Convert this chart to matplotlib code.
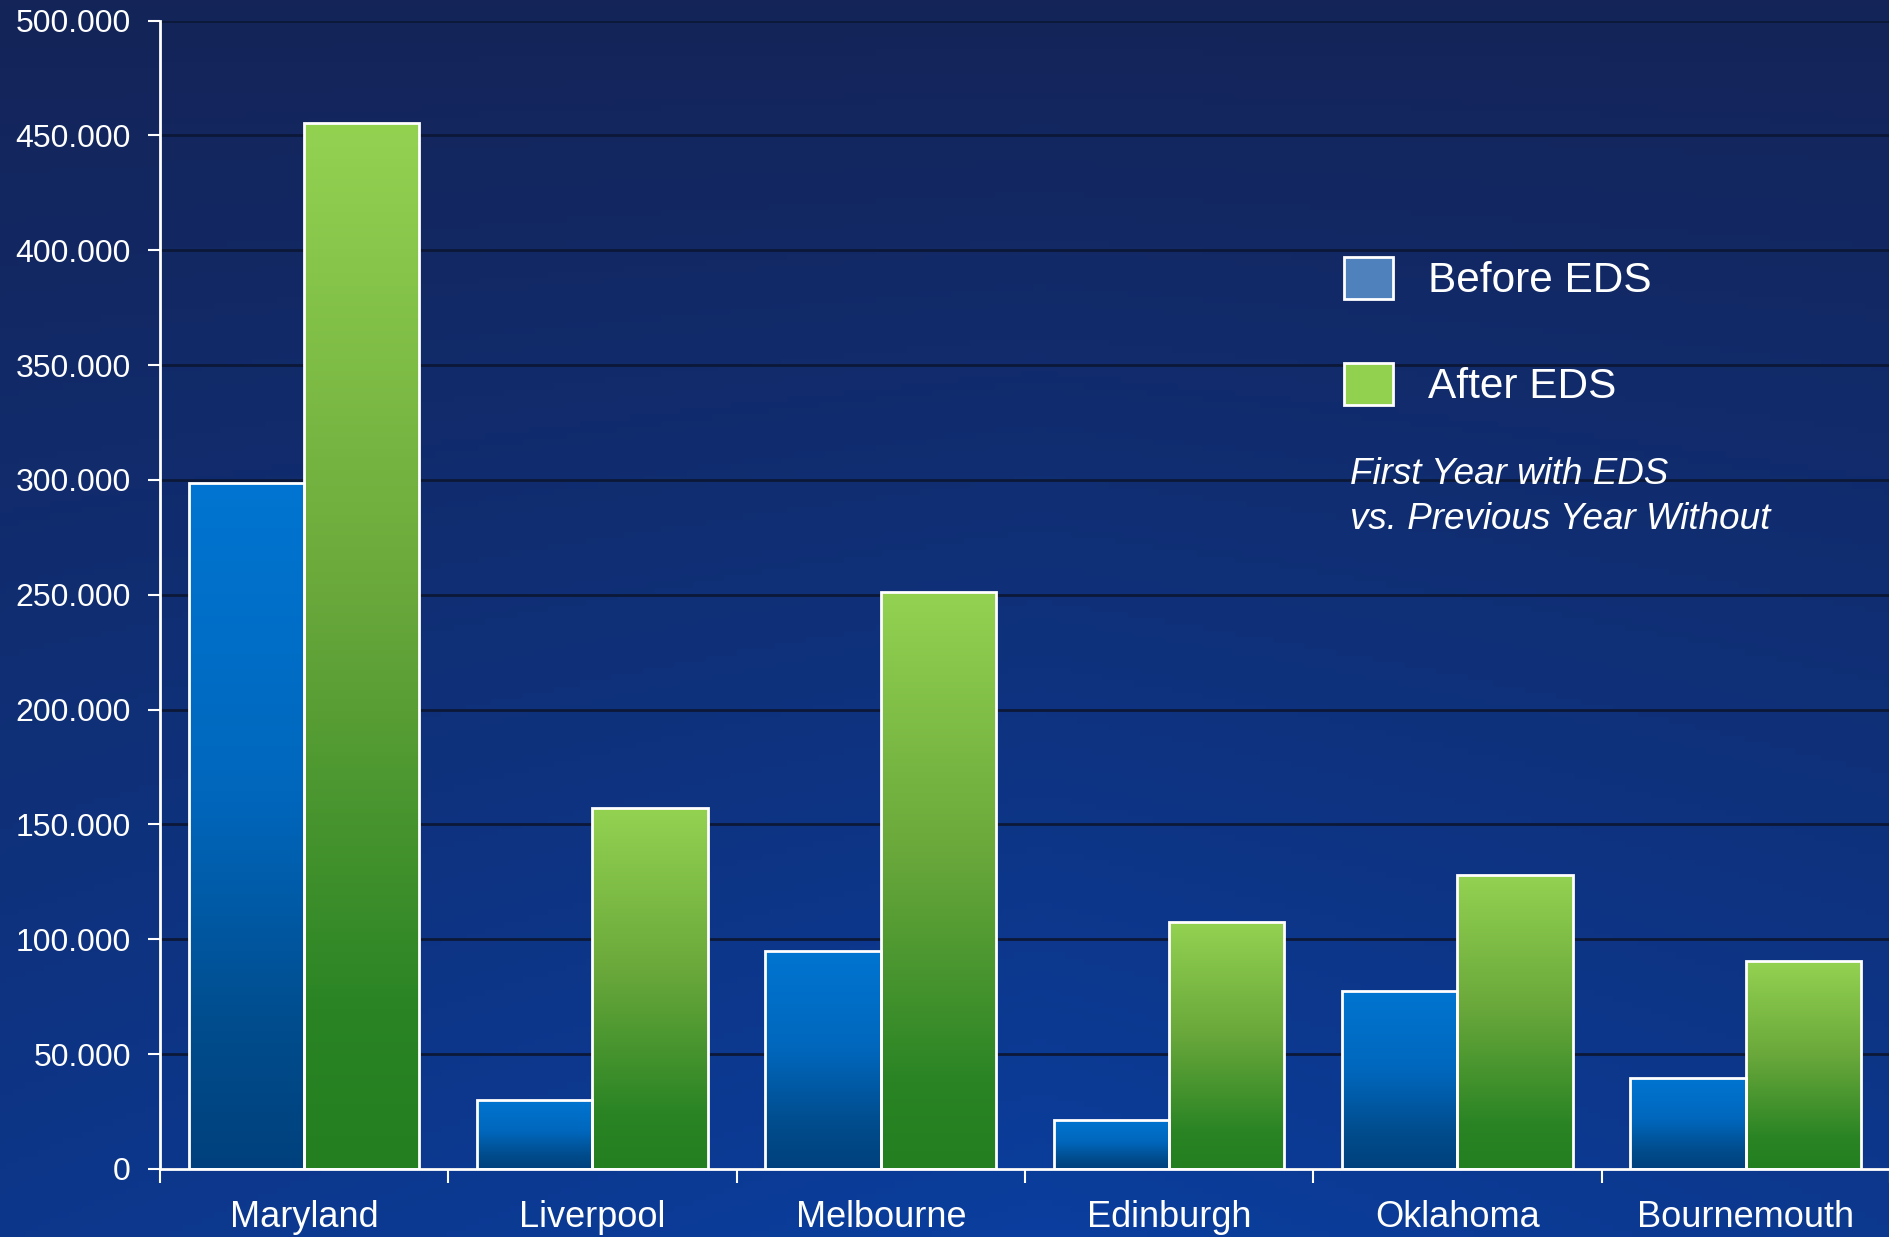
import numpy as np
import matplotlib
matplotlib.use("Agg")
import matplotlib.pyplot as plt
from matplotlib.colors import LinearSegmentedColormap
from matplotlib.patches import Patch
from matplotlib.ticker import FuncFormatter, MultipleLocator

plt.rcParams['font.family'] = ['Liberation Sans', 'DejaVu Sans']

# data
airports = ['Maryland', 'Liverpool', 'Melbourne', 'Edinburgh', 'Oklahoma', 'Bournemouth']
before_eds = [298500, 30000, 95000, 21500, 77500, 39500]
after_eds = [455500, 157000, 251000, 107500, 128000, 90500]
series_labels = ['Before EDS', 'After EDS']
note = 'First Year with EDS\nvs. Previous Year Without'

W, H, DPI = 1890, 1237, 100
fig = plt.figure(figsize=(W / DPI, H / DPI), dpi=DPI)

# background: dark navy at top/edges, brighter blue low in the middle
bg = fig.add_axes([0, 0, 1, 1], zorder=-10)
yy, xx = np.mgrid[0:1:200j, 0:1:300j]
t = np.clip(0.75 * yy + 0.25 * (1 - np.abs(xx - 0.55) * 2) * yy, 0, 1)
top = np.array([20, 36, 88]) / 255
bot = np.array([10, 62, 158]) / 255
img = top[None, None, :] * (1 - t[..., None]) + bot[None, None, :] * t[..., None]
bg.imshow(img, aspect='auto', extent=[0, 1, 0, 1], origin='upper')
bg.axis('off')

ax = fig.add_axes([160 / W, (H - 1169) / H, (W - 160) / W, (1169 - 20.5) / H])
ax.patch.set_alpha(0)

blue_cm = LinearSegmentedColormap.from_list(
    'blue', [(0, '#0075d1'), (0.45, '#0067bd'), (0.8, '#004c8c'), (1, '#00417d')])
green_cm = LinearSegmentedColormap.from_list(
    'green', [(0, '#93d251'), (0.45, '#6aa83b'), (0.85, '#2a8424'), (1, '#237f20')])

x = np.arange(len(airports))
w = 0.4
b1 = ax.bar(x - w / 2, before_eds, w, color='none', edgecolor='white', linewidth=2, zorder=3)
b2 = ax.bar(x + w / 2, after_eds, w, color='none', edgecolor='white', linewidth=2, zorder=3)

grad = np.linspace(0, 1, 256).reshape(-1, 1)
for bars, cm in ((b1, blue_cm), (b2, green_cm)):
    for r in bars:
        x0, w0, h0 = r.get_x(), r.get_width(), r.get_height()
        im = ax.imshow(grad, cmap=cm, aspect='auto', origin='upper',
                       extent=[x0, x0 + w0, 0, h0], zorder=2)
        im.set_clip_path(r)

ax.set_xlim(-0.5, len(airports) - 0.5)
ax.set_ylim(0, 500000)

ax.yaxis.set_major_locator(MultipleLocator(50000))
ax.yaxis.set_major_formatter(FuncFormatter(lambda v, p: '0' if v == 0 else f'{v/1000:.0f}.000'))
ax.grid(axis='y', color='#0c1838', linewidth=2, zorder=1)
ax.set_axisbelow(True)

ax.set_xticks(np.arange(-0.5, len(airports)))
ax.set_xticklabels([])
ax.set_xticks(x, minor=True)
ax.set_xticklabels(airports, minor=True)
ax.tick_params(axis='x', which='major', direction='out', length=10, width=1.5, color='white')
ax.tick_params(axis='x', which='minor', length=0, pad=22, labelsize=26, labelcolor='white')
ax.tick_params(axis='y', direction='out', length=9, width=1.5, color='white',
               pad=12, labelsize=23, labelcolor='white')

for s in ('top', 'right'):
    ax.spines[s].set_visible(False)
for s in ('left', 'bottom'):
    ax.spines[s].set_color('white')
    ax.spines[s].set_linewidth(2)
    ax.spines[s].set_zorder(4)

handles = [Patch(facecolor='#4f81bd', edgecolor='white', linewidth=2),
           Patch(facecolor='#92d050', edgecolor='white', linewidth=2)]
leg = fig.legend(handles, series_labels, loc='upper left',
                 bbox_to_anchor=(1344 / W, 1 - 257 / H), frameon=False,
                 fontsize=30.5, handlelength=1.15, handleheight=1.15,
                 labelspacing=1.45, handletextpad=0.83, borderpad=0, borderaxespad=0)
for txt in leg.get_texts():
    txt.set_color('white')

fig.text(1350 / W, 1 - 497 / H, note, color='white', fontsize=26.5, style='italic',
         ha='left', va='center', linespacing=1.35)

fig.savefig('out.png', dpi=DPI)
